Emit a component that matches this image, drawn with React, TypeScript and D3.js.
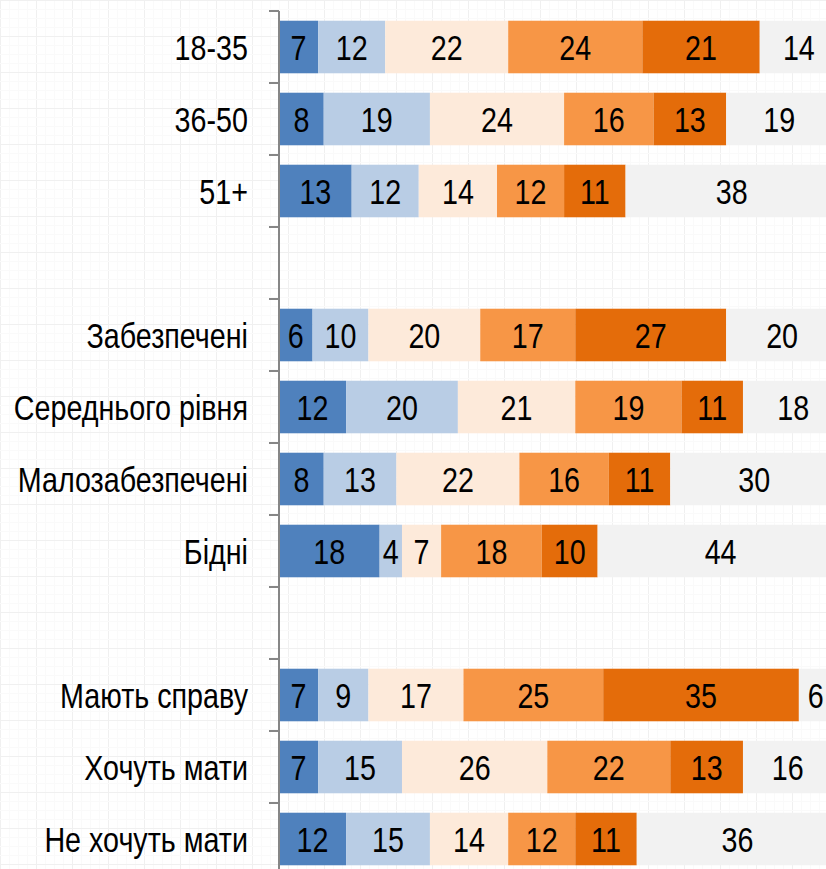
import React, { useRef, useEffect } from 'react';
import * as d3 from 'd3';

// rows (blank strings are the gaps between groups)
const categories = [
  '18-35', '36-50', '51+', '',
  'Забезпечені', 'Середнього рівня', 'Малозабезпечені', 'Бідні', ' ',
  'Мають справу', 'Хочуть мати', 'Не хочуть мати',
];

// six answer groups, left to right
const s1 = [7, 8, 13, null, 6, 12, 8, 18, null, 7, 7, 12];
const s2 = [12, 19, 12, null, 10, 20, 13, 4, null, 9, 15, 15];
const s3 = [22, 24, 14, null, 20, 21, 22, 7, null, 17, 26, 14];
const s4 = [24, 16, 12, null, 17, 19, 16, 18, null, 25, 22, 12];
const s5 = [21, 13, 11, null, 27, 11, 11, 10, null, 35, 13, 11];
const s6 = [14, 19, 38, null, 20, 18, 30, 44, null, 6, 16, 36];

const series = [s1, s2, s3, s4, s5, s6];
const colors = ['#4F81BD', '#B9CDE5', '#FDEADA', '#F79646', '#E46C0A', '#F2F2F2'];

const W = 826;
const H = 869;

// no narrow font installed, so squeeze the regular one
const NARROW = 0.82;

const Chart: React.FC = () => {
  const ref = useRef<SVGSVGElement>(null);

  useEffect(() => {
    if (!ref.current) return;
    const svg = d3.select(ref.current);
    svg.selectAll('*').remove();

    // faint paper grid in the background
    const bg = svg.append('g');
    d3.range(0, W, 9).forEach(x => {
      bg.append('line').attr('x1', x + 0.5).attr('x2', x + 0.5).attr('y1', 0).attr('y2', H)
        .attr('stroke', x % 36 === 0 ? '#f0f0f0' : '#fafafa').attr('stroke-width', 1);
    });
    d3.range(0, H, 9).forEach(y => {
      bg.append('line').attr('y1', y + 0.5).attr('y2', y + 0.5).attr('x1', 0).attr('x2', W)
        .attr('stroke', y % 36 === 0 ? '#f0f0f0' : '#fafafa').attr('stroke-width', 1);
    });

    const x0 = 279;
    const xScale = d3.scaleLinear().domain([0, 100]).range([x0, x0 + 559]);

    const yScale = d3.scaleBand()
      .domain(categories)
      .range([11, 11 + 72 * categories.length])
      .paddingInner(0.27)
      .paddingOuter(0.135);

    const font = '"Liberation Sans", Arial, sans-serif';

    const label = (g: d3.Selection<SVGGElement, unknown, null, undefined>, x: number, y: number, anchor: string, t: string) => {
      g.append('text')
        .attr('transform', `translate(${x},${y}) scale(${NARROW},1)`)
        .attr('dy', '0.36em')
        .attr('text-anchor', anchor)
        .attr('font-family', font)
        .attr('font-size', 35)
        .attr('fill', '#000')
        .text(t);
    };

    categories.forEach((cat, i) => {
      if (series[0][i] == null) return;
      let acc = 0;
      const row = svg.append('g');
      series.forEach((s, k) => {
        const v = s[i] as number;
        const xa = xScale(acc);
        const xb = xScale(acc + v);
        acc += v;
        row.append('rect')
          .attr('x', xa)
          .attr('y', yScale(cat)!)
          .attr('width', xb - xa)
          .attr('height', yScale.bandwidth())
          .attr('fill', colors[k]);
        label(row, (xa + xb) / 2, yScale(cat)! + yScale.bandwidth() / 2, 'middle', String(v));
      });
    });

    // category axis on the left
    const step = yScale.step();
    const top = 11;
    const axis = svg.append('g');
    axis.append('line')
      .attr('x1', x0).attr('x2', x0)
      .attr('y1', top).attr('y2', H)
      .attr('stroke', '#868686').attr('stroke-width', 2);
    d3.range(categories.length + 1).forEach(i => {
      axis.append('line')
        .attr('x1', x0 - 10).attr('x2', x0)
        .attr('y1', top + i * step).attr('y2', top + i * step)
        .attr('stroke', '#868686').attr('stroke-width', 2);
    });
    categories.forEach(cat => {
      if (!cat.trim()) return;
      label(axis, 248, yScale(cat)! + yScale.bandwidth() / 2, 'end', cat);
    });
  }, []);

  return (
    <svg
      ref={ref}
      width={W}
      height={H}
      style={{ position: 'absolute', left: 0, top: 0, background: '#fff' }}
    />
  );
};

export default function App() {
  return <Chart />;
}
